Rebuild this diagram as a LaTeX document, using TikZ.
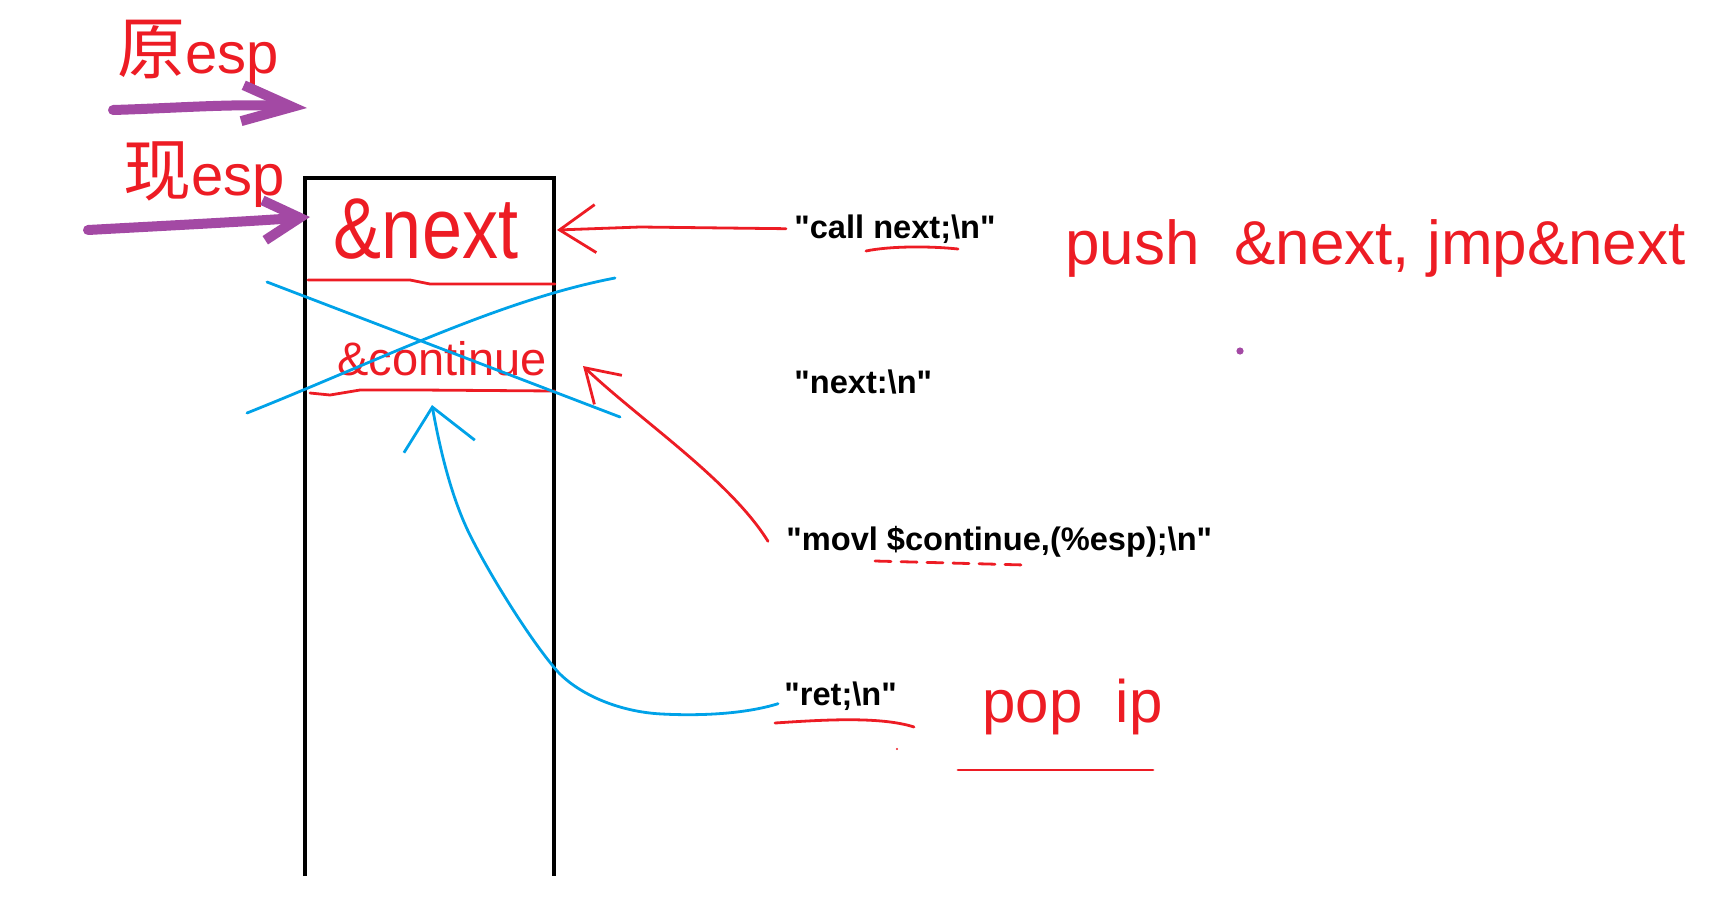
\documentclass[tikz,border=0pt]{standalone}
\usepackage{fontspec}
\setmainfont{Liberation Sans}
\newfontfamily\cjk{Noto Sans CJK SC}
\usetikzlibrary{arrows.meta}
\definecolor{pred}{RGB}{237,28,36}
\definecolor{pblue}{RGB}{0,162,232}
\definecolor{ppurple}{RGB}{163,73,164}
\newcommand{\qq}{\textquotedbl}
\begin{document}
\begin{tikzpicture}[x=0.5pt,y=-0.5pt,
  code/.style={font=\fontsize{16.3}{19}\selectfont\bfseries, anchor=base west, inner sep=0pt},
  hand/.style={text=pred, inner sep=0pt},
  redpen/.style={draw=pred, line width=1.4pt, line cap=round, line join=round},
  bluepen/.style={draw=pblue, line width=1.4pt, line cap=round, line join=round},
  purplepen/.style={draw=ppurple, line width=5pt, line cap=round, line join=round},
  stackwall/.style={draw=black, line width=2pt}
]
\useasboundingbox (0,0) rectangle (1716,905);

% stack
\coordinate (stBL) at (305,876);
\coordinate (stTL) at (305,178);
\coordinate (stTR) at (554,178);
\coordinate (stBR) at (554,876);
\draw[stackwall] (stBL) -- (stTL) -- (stTR) -- (stBR);

% slot separators
\draw[redpen] (308,280) -- (410,280) -- (430,284) -- (555,284);
\draw[redpen] (310,393) -- (330,395) -- (360,390) -- (420,390) -- (555,391);

% slot contents
\node[hand, font=\fontsize{36}{40}\selectfont, anchor=base, yscale=1.2, transform shape] (nextval) at (426,258) {\&next};
\node[hand, font=\fontsize{23.5}{28}\selectfont, anchor=base] (contval) at (442,375) {\&continue};

% blue cross
\draw[bluepen] (267,282) -- (620,417);
\draw[bluepen] (247,413) .. controls (380,360) and (500,300) .. (615,278);

% code lines
\node[code] (call) at (794,238) {\qq call next;\textbackslash n\qq};
\node[code] (nextlbl) at (794,393) {\qq next:\textbackslash n\qq};
\node[code] (movl) at (786,550) {\qq movl \$continue,(\%esp);\textbackslash n\qq};
\node[code] (ret) at (784,705) {\qq ret;\textbackslash n\qq};

% esp labels
\node[hand, anchor=base west] (origesp) at (117,73) {{\cjk\fontsize{34}{40}\selectfont 原}{\fontsize{29}{32}\selectfont esp}};
\node[hand, anchor=base west] (curesp) at (123,195) {{\cjk\fontsize{34}{40}\selectfont 现}{\fontsize{29}{32}\selectfont esp}};

% notes
\node[hand, anchor=base west, font=\fontsize{31}{36}\selectfont] (pushnote) at (1065,264) {push\ \ \&next, jmp\&next};
\node[hand, anchor=base west, font=\fontsize{30}{36}\selectfont] (popnote) at (982,722) {pop\ \ ip};

% purple esp arrows
\coordinate (origtail) at (113,110);
\coordinate (origtip) at (307,108);
\coordinate (curtail) at (88,230);
\coordinate (curtip) at (310,217);
\draw[purplepen, -{Straight Barb[length=25pt,width=18pt]}] (origtail) .. controls (180,108) and (240,103) .. (origtip);
\draw[purplepen, -{Straight Barb[length=18pt,width=20pt]}] (curtail) .. controls (160,226) and (240,222) .. (curtip);

% red arrows
\coordinate (nextslot) at (557,230);
\draw[redpen, -{Straight Barb[length=18pt,width=24pt]}] ([xshift=-4pt]call.west) -- (640,227) -- (nextslot);
\coordinate (contslot) at (583,366);
\draw[redpen, -{Straight Barb[length=16pt,width=20pt]}] ([xshift=-9pt]movl.west) .. controls (730,480) and (640,420) .. (contslot);

% blue return arrow
\coordinate (contunder) at (432,405);
\draw[bluepen, -{Straight Barb[length=20pt,width=36pt]}] ([xshift=-3pt,yshift=-4pt]ret.west) .. controls (745,714) and (700,716) .. (662,714) .. controls (620,712) and (580,695) .. (558,672) .. controls (530,640) and (490,575) .. (471,537) .. controls (452,500) and (440,450) .. (contunder);

% underlines
\draw[redpen] (866,251) .. controls (890,246) and (930,246) .. (958,249);
\draw[redpen, dash pattern=on 8pt off 5pt] (875,561) -- (1025,565);
\draw[redpen] (775,723) .. controls (820,720) and (880,716) .. (914,727);
\draw[redpen] (958,770) -- (1153,770);

% dots
\fill[ppurple] (1240,351) circle[radius=1.8pt];
\fill[pred] (897,749) circle[radius=0.6pt];
\end{tikzpicture}
\end{document}
